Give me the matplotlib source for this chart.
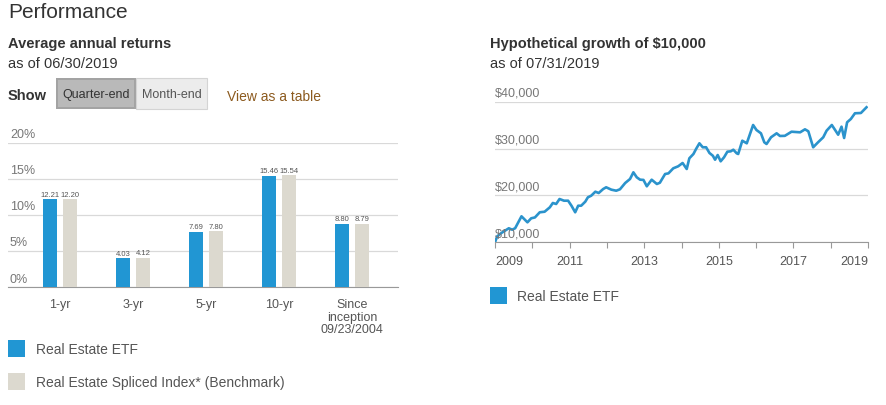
import matplotlib
matplotlib.use('Agg')
import matplotlib.pyplot as plt
from matplotlib.patches import Rectangle
import matplotlib.transforms as mtransforms

plt.rcParams['font.family'] = ['Liberation Sans', 'DejaVu Sans']

# bar chart data
categories = ['1-yr', '3-yr', '5-yr', '10-yr', 'Since\ninception\n09/23/2004']
etf_returns = [12.21, 4.03, 7.69, 15.46, 8.80]
bench_returns = [12.20, 4.12, 7.80, 15.54, 8.79]
bar_yticks = [0, 5, 10, 15, 20]

# growth of $10,000
growth_years = [2009.00, 2009.06, 2009.17, 2009.37, 2009.46, 2009.54, 2009.71, 2009.87, 2009.97,
                2010.07, 2010.20, 2010.33, 2010.47, 2010.55, 2010.64, 2010.73, 2010.85, 2010.96,
                2011.05, 2011.15, 2011.23, 2011.31, 2011.42, 2011.49, 2011.58, 2011.69, 2011.78,
                2011.90, 2011.98, 2012.12, 2012.25, 2012.35, 2012.49, 2012.62, 2012.71, 2012.80,
                2012.89, 2012.98, 2013.07, 2013.20, 2013.34, 2013.42, 2013.56, 2013.65, 2013.78,
                2013.91, 2014.03, 2014.14, 2014.21, 2014.32, 2014.39, 2014.48, 2014.57, 2014.66,
                2014.75, 2014.84, 2014.90, 2014.97, 2015.05, 2015.14, 2015.23, 2015.32, 2015.39,
                2015.48, 2015.52, 2015.63, 2015.75, 2015.92, 2016.01, 2016.13, 2016.22, 2016.28,
                2016.40, 2016.55, 2016.64, 2016.77, 2016.95, 2017.18, 2017.31, 2017.40, 2017.53,
                2017.66, 2017.80, 2017.89, 2018.03, 2018.13, 2018.20, 2018.29, 2018.36, 2018.44,
                2018.54, 2018.65, 2018.81, 2018.96]
growth_values = [10000, 11280, 11980, 12990, 12690, 13000, 15540, 14260, 15120,
                 15300, 16400, 16520, 17460, 18380, 18170, 19230, 18870, 18870,
                 17800, 16400, 17800, 17800, 18660, 19590, 19940, 20790, 20510,
                 21360, 21730, 21220, 21000, 21300, 22640, 23500, 24920, 23860,
                 23350, 23300, 21940, 23350, 22430, 22700, 24560, 24700, 25780,
                 26200, 26910, 25630, 27910, 28830, 29890, 31110, 30260, 30260,
                 29040, 28460, 27610, 28610, 27270, 28120, 29320, 29400, 29740,
                 28970, 28830, 31660, 31110, 35010, 33940, 33240, 31320, 30960,
                 32390, 33240, 32670, 32700, 33580, 33450, 34090, 33670, 30260,
                 31320, 32390, 33800, 35010, 33800, 32940, 34650, 32240, 35590,
                 36290, 37510, 37570, 38790]
growth_yticks = [10000, 20000, 30000, 40000]
growth_xticks = list(range(2009, 2020))

BLUE = '#2196d3'
BEIGE = '#dcd9cf'
W, H = 887, 406

fig = plt.figure(figsize=(W / 100, H / 100), dpi=100)


def fx(x):
    return x / W


def fy(y):
    return 1 - y / H


def label(x, y, s, **kw):
    fig.text(fx(x), fy(y), s, va='center', ha='left', **kw)


# header texts
label(8, 13, 'Performance', fontsize=15, color='#333333')
label(8, 44, 'Average annual returns', fontsize=10.5, fontweight='bold', color='#333333')
label(8, 64, 'as of 06/30/2019', fontsize=10.5, color='#333333')
label(8, 96, 'Show', fontsize=10.5, fontweight='bold', color='#333333')
label(490, 44, 'Hypothetical growth of $10,000', fontsize=10.5, fontweight='bold', color='#333333')
label(490, 64, 'as of 07/31/2019', fontsize=10.5, color='#333333')

# toggle buttons
fig.patches.append(Rectangle((fx(56), fy(110)), fx(80), 31 / H, transform=fig.transFigure,
                             facecolor='#a3a3a3', edgecolor='none'))
fig.patches.append(Rectangle((fx(58), fy(108)), fx(76), 27 / H, transform=fig.transFigure,
                             facecolor='#b9b9b9', edgecolor='none'))
fig.patches.append(Rectangle((fx(136), fy(110)), fx(71), 31 / H, transform=fig.transFigure,
                             facecolor='#ececec', edgecolor='#d4d4d4', linewidth=0.8))
fig.text(fx(96), fy(95), 'Quarter-end', ha='center', va='center', fontsize=9, color='#333333')
fig.text(fx(171.5), fy(95), 'Month-end', ha='center', va='center', fontsize=9, color='#555555')
label(227, 97, 'View as a table', fontsize=10, color='#8c5a1e')

# ---- bar chart ----
ax = fig.add_axes([fx(8), fy(288.3), fx(390), 144.3 / H])
x = list(range(len(categories)))
off, bw = 0.137, 0.183
b1 = ax.bar([i - off for i in x], etf_returns, width=bw, color=BLUE, zorder=3)
b2 = ax.bar([i + off for i in x], bench_returns, width=bw, color=BEIGE, zorder=3)
for bars in (b1, b2):
    ax.bar_label(bars, fmt='%.2f', fontsize=5.5, color='#555555', padding=1)
ax.set_xlim(-0.71, 4.63)
ax.set_ylim(0, 20)
ax.set_yticks(bar_yticks)
ax.yaxis.grid(True, color='#d9d9d9', linewidth=0.9)
ax.set_axisbelow(True)
ax.tick_params(axis='y', length=0, labelleft=False)
ax.tick_params(axis='x', length=0, pad=8, labelsize=9, labelcolor='#555555')
ax.set_xticks(x, categories)
for t in ax.get_xticklabels():
    t.set_linespacing(1.05)
for s in ('top', 'right', 'left'):
    ax.spines[s].set_visible(False)
ax.spines['bottom'].set_color('#999999')
ytr = ax.get_yaxis_transform() + mtransforms.ScaledTranslation(0, 2 / 72, fig.dpi_scale_trans)
for v in bar_yticks:
    ax.text(0.005, v, f'{v}%', transform=ytr, fontsize=9, color='#777777', va='bottom', ha='left')

# legend (left)
fig.patches.append(Rectangle((fx(8), fy(358)), fx(17), 17 / H, transform=fig.transFigure,
                             facecolor=BLUE, edgecolor='none'))
label(36, 350, 'Real Estate ETF', fontsize=10, color='#555555')
fig.patches.append(Rectangle((fx(8), fy(391)), fx(17), 17 / H, transform=fig.transFigure,
                             facecolor=BEIGE, edgecolor='none'))
label(36, 383, 'Real Estate Spliced Index* (Benchmark)', fontsize=10, color='#555555')

# ---- growth line chart ----
ax2 = fig.add_axes([fx(495), fy(243.3), fx(373), 140.7 / H])
ax2.plot(growth_years, growth_values, color='#2b93cc', linewidth=1.9, zorder=3,
         solid_joinstyle='round')
ax2.set_xlim(2009, 2019)
ax2.set_ylim(10000, 40000)
ax2.set_yticks(growth_yticks)
ax2.yaxis.grid(True, color='#d9d9d9', linewidth=0.9)
ax2.tick_params(axis='y', length=0, labelleft=False)
ax2.set_xticks(growth_xticks, [str(y) if (y - 2009) % 2 == 0 else '' for y in growth_xticks])
ax2.tick_params(axis='x', length=4, color='#999999', pad=5, labelsize=9, labelcolor='#555555')
xl = ax2.get_xticklabels()
xl[0].set_ha('left')
xl[-1].set_ha('right')
for s in ('top', 'right', 'left'):
    ax2.spines[s].set_visible(False)
ax2.spines['bottom'].set_color('#999999')
ytr2 = ax2.get_yaxis_transform() + mtransforms.ScaledTranslation(0, 2 / 72, fig.dpi_scale_trans)
for v in growth_yticks:
    ax2.text(0.0, v, f'${v:,}', transform=ytr2, fontsize=9, color='#777777', va='bottom', ha='left')

# legend (right)
fig.patches.append(Rectangle((fx(490), fy(305)), fx(17), 17 / H, transform=fig.transFigure,
                             facecolor=BLUE, edgecolor='none'))
label(517, 297, 'Real Estate ETF', fontsize=10, color='#555555')

fig.savefig('out.png', dpi=100, facecolor='white')
